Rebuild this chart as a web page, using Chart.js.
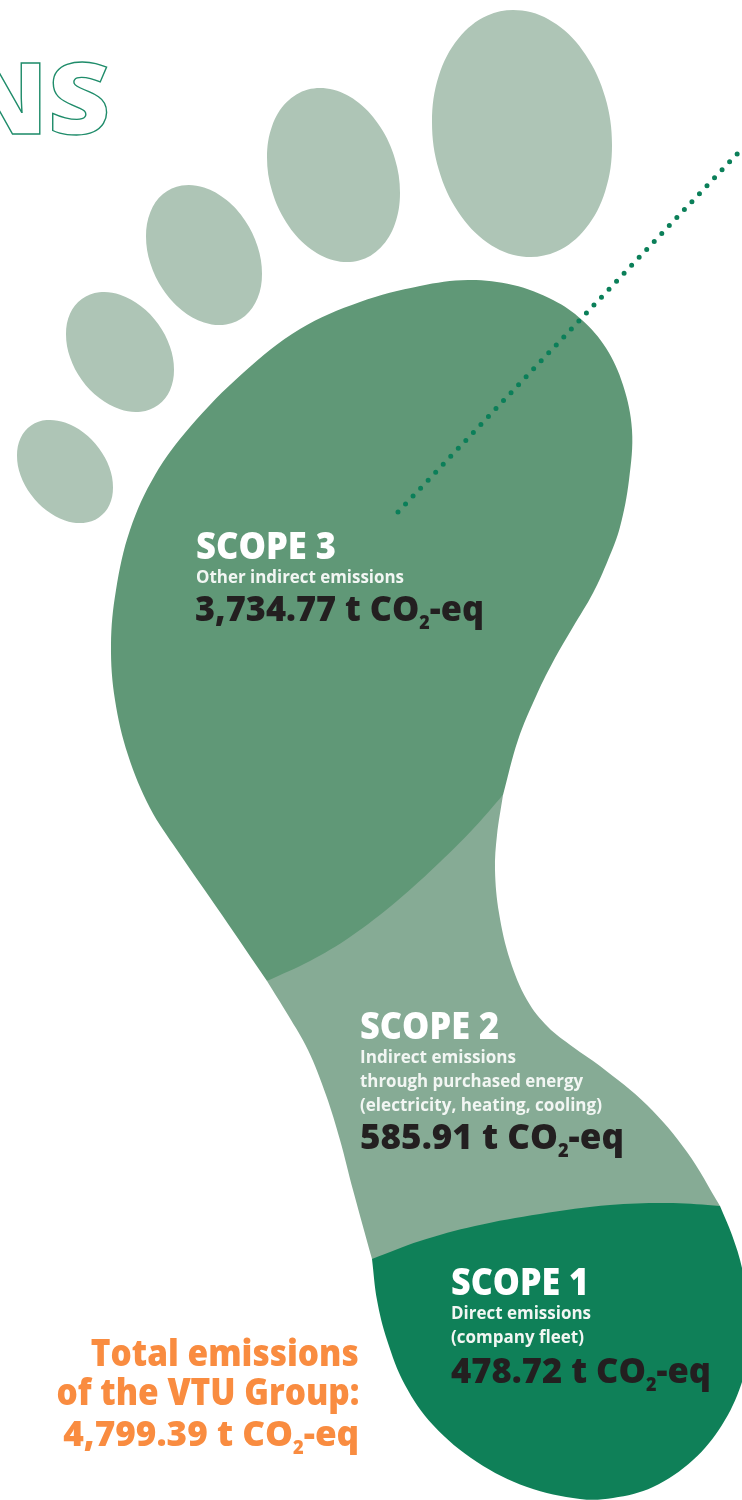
<!doctype html>
<html lang="en">
  <head>
    <script src="https://cdn.jsdelivr.net/npm/chart.js"></script>
    <meta charset="UTF-8" />
    <title>Emissions footprint</title>
    <style>
      html, body { margin: 0; padding: 0; background: #fff; }
      #wrap { position: relative; width: 742px; height: 1500px; overflow: hidden; }
      canvas { position: absolute; left: 0; top: 0; }
      .t { position: absolute; white-space: nowrap; font-family: "Open Sans", sans-serif; line-height: 1; }
      .t sub { font-size: 0.52em; vertical-align: -0.42em; line-height: 0; }
      .strut { display: inline-block; width: 0; height: 0; }
    </style>
  </head>
  <body>
    <div id="wrap"><canvas id="foot" width="742" height="1500"></canvas></div>

    <script>
      // values printed in the picture
      const scopeNames = ["SCOPE 3", "SCOPE 2", "SCOPE 1"];
      const scopeValues = [3734.77, 585.91, 478.72];
      const totalValue = 4799.39;
      const scopeNotes = [
        ["Other indirect emissions"],
        ["Indirect emissions", "through purchased energy", "(electricity, heating, cooling)"],
        ["Direct emissions", "(company fleet)"],
      ];

      // outlines, in picture units. a repeated point is a hard corner
      const scope3Outline = [
        [267, 981], [267, 981], [222, 915], [177, 850], [150, 808], [128, 755], [115, 700], [111, 645], [116, 590],
        [130, 530], [155, 475], [190, 427], [243, 373], [300, 329], [360, 302], [420, 286], [468, 280], [513, 285],
        [553, 300], [582, 320], [606, 348], [623, 385], [632, 430], [629, 480], [620, 527], [608, 560], [593, 593],
        [573, 627], [555, 658], [537, 694], [518, 740], [503, 795], [503, 795], [473, 829], [440, 862], [397, 901],
        [350, 937], [310, 961], [267, 981], [267, 981],
      ];
      const scope2Outline = [
        [503, 795], [503, 795], [497, 835], [495, 870], [499, 913], [510, 960], [527, 1000], [548, 1027], [573, 1047],
        [600, 1066], [647, 1105], [687, 1152], [720, 1206], [720, 1206], [700, 1225], [700, 1225], [390, 1265],
        [390, 1265], [372, 1259], [372, 1259], [353, 1190], [340, 1140], [326, 1095], [308, 1050], [288, 1015],
        [267, 981], [267, 981], [503, 795], [503, 795],
      ];
      const scope1Outline = [
        [372, 1259], [372, 1259], [420, 1241], [475, 1226], [540, 1214], [610, 1205], [673, 1203], [720, 1206],
        [720, 1206], [732, 1235], [742, 1268], [748, 1310], [748, 1350], [741, 1385], [722, 1425], [693, 1460],
        [653, 1487], [613, 1498], [580, 1499], [527, 1487], [477, 1462], [433, 1425], [405, 1385], [387, 1340],
        [377, 1300], [372, 1259], [372, 1259],
      ];
      const toe1Outline = [
        [113, 487.6], [109.4, 505.1], [98.9, 517.5], [83.4, 522.9], [65, 520.4], [46.6, 510.5], [31.1, 494.7], [20.6, 475.4],
        [17, 455.4], [20.6, 437.9], [31.1, 425.5], [46.6, 420.1], [65, 422.6], [83.4, 432.5], [98.9, 448.3], [109.4, 467.6],
      ];
      const toe2Outline = [
        [174, 369.8], [169.9, 390.4], [158.2, 405], [140.7, 411.7], [120, 409.3], [99.3, 398.1], [81.8, 380], [70.1, 357.5],
        [66, 334.2], [70.1, 313.6], [81.8, 299], [99.3, 292.3], [120, 294.7], [140.7, 305.9], [158.2, 324], [169.9, 346.5],
      ];
      const toe3Outline = [
        [262, 273.7], [257.6, 298.1], [245, 316], [226.2, 324.5], [204, 322.5], [181.8, 310.2], [163, 289.5], [150.4, 263.5],
        [146, 236.3], [150.4, 211.9], [163, 194], [181.8, 185.5], [204, 187.5], [226.2, 199.8], [245, 220.5], [257.6, 246.5],
      ];
      const toe4Outline = [
        [400, 192.7], [394.9, 224], [380.5, 247.7], [359, 260.5], [333.5, 260.2], [308, 247], [286.5, 222.7], [272.1, 191.3],
        [267, 157.3], [272.1, 126], [286.5, 102.3], [308, 89.5], [333.5, 89.8], [359, 103], [380.5, 127.3], [394.9, 158.7],
      ];
      const toe5Outline = [
        [612, 145.1], [605.2, 191.3], [585.6, 228.6], [556.5, 251.6], [522, 256.5], [487.5, 242.7], [458.4, 212.3], [438.8, 169.8],
        [432, 121.9], [438.8, 75.7], [458.4, 38.4], [487.5, 15.4], [522, 10.5], [556.5, 24.3], [585.6, 54.7], [605.2, 97.2],
      ];
      const leaderLine = [[398, 512], [738, 153]];

      const GREEN = { scope1: "#0f8058", scope2: "#86ab95", scope3: "#609877", toe: "#aec5b6", dots: "#0b7f59" };

      function toPoints(outline) {
        return outline.map(([x, y]) => ({ x, y }));
      }

      // toes have no corner, so run the curve past its start to close it smoothly
      function closedLoop(outline) {
        return [outline[outline.length - 1], ...outline, outline[0], outline[1]];
      }

      function shape(outline, color) {
        return {
          data: toPoints(outline),
          showLine: true,
          fill: "shape",
          backgroundColor: color,
          borderColor: color,
          borderWidth: 0,
          pointRadius: 0,
          tension: 0.36,
          capBezierPoints: false, // the heel runs off the right edge
        };
      }

      // first dataset ends up on top
      new Chart(document.getElementById("foot"), {
        type: "scatter",
        data: {
          datasets: [
            {
              data: toPoints(leaderLine),
              showLine: true,
              fill: false,
              borderColor: GREEN.dots,
              borderWidth: 5,
              borderCapStyle: "round",
              borderDash: [0, 10.96],
              pointRadius: 0,
            },
            shape(scope3Outline, GREEN.scope3),
            shape(scope1Outline, GREEN.scope1),
            shape(scope2Outline, GREEN.scope2),
            shape(closedLoop(toe1Outline), GREEN.toe),
            shape(closedLoop(toe2Outline), GREEN.toe),
            shape(closedLoop(toe3Outline), GREEN.toe),
            shape(closedLoop(toe4Outline), GREEN.toe),
            shape(closedLoop(toe5Outline), GREEN.toe),
          ],
        },
        options: {
          responsive: false,
          animation: false,
          layout: { padding: 0 },
          plugins: { legend: { display: false }, tooltip: { enabled: false } },
          scales: {
            x: { type: "linear", min: 0, max: 742, display: false },
            y: { type: "linear", min: 0, max: 1500, reverse: true, display: false },
          },
        },
      });

      // text goes on top as plain html, placed by its baseline and fitted to the width in the picture
      const wrap = document.getElementById("wrap");
      function place(html, x, baseline, size, weight, color, width, alignRight) {
        const el = document.createElement("div");
        el.className = "t";
        el.innerHTML = '<span class="strut"></span>' + html;
        el.style.fontSize = size + "px";
        el.style.fontWeight = weight;
        el.style.color = color;
        el.style.top = "0px";
        if (alignRight) {
          el.style.right = 742 - x + "px";
          el.style.transformOrigin = "right center";
        } else {
          el.style.left = x + "px";
          el.style.transformOrigin = "left center";
        }
        wrap.appendChild(el);
        const strutBottom = el.querySelector(".strut").getBoundingClientRect().bottom;
        el.style.top = baseline - strutBottom + "px";
        el.style.transform = "scaleX(" + width / el.getBoundingClientRect().width + ")";
        return el;
      }

      function valueText(v) {
        return v.toLocaleString("en-US", { minimumFractionDigits: 2 }) + " t CO<sub>2</sub>-eq";
      }

      const WHITE = "#ffffff", DARK = "#231f20", ORANGE = "#f98c40";
      const NOTE = "#f2f6f3";

      // scope 3
      place(scopeNames[0], 196, 559, 37, 800, WHITE, 140);
      place(scopeNotes[0][0], 196, 583, 17.5, 700, NOTE, 208);
      place(valueText(scopeValues[0]), 195, 621, 36, 800, DARK, 289);

      // scope 2
      place(scopeNames[1], 360, 1039, 37, 800, WHITE, 139);
      place(scopeNotes[1][0], 360, 1063, 17.5, 700, NOTE, 156);
      place(scopeNotes[1][1], 360, 1087, 17.5, 700, NOTE, 223);
      place(scopeNotes[1][2], 360, 1111, 17.5, 700, NOTE, 242);
      place(valueText(scopeValues[1]), 360, 1149, 36, 800, DARK, 264);

      // scope 1
      place(scopeNames[2], 451, 1295, 37, 800, WHITE, 138);
      place(scopeNotes[2][0], 451, 1319, 17.5, 700, NOTE, 140);
      place(scopeNotes[2][1], 451, 1343, 17.5, 700, NOTE, 133);
      place(valueText(scopeValues[2]), 451, 1383, 36, 800, DARK, 260);

      // total
      place("Total emissions", 359, 1366, 37, 800, ORANGE, 268, true);
      place("of the VTU Group:", 360, 1405, 37, 800, ORANGE, 303, true);
      place(valueText(totalValue), 359, 1446, 36, 800, ORANGE, 296, true);

      // cut-off title
      const title = place("NS", 110, 134, 100, 800, "#ffffff", 152, true);
      title.style.webkitTextStroke = "1.3px #1f8c6a";
    </script>
  </body>
</html>
